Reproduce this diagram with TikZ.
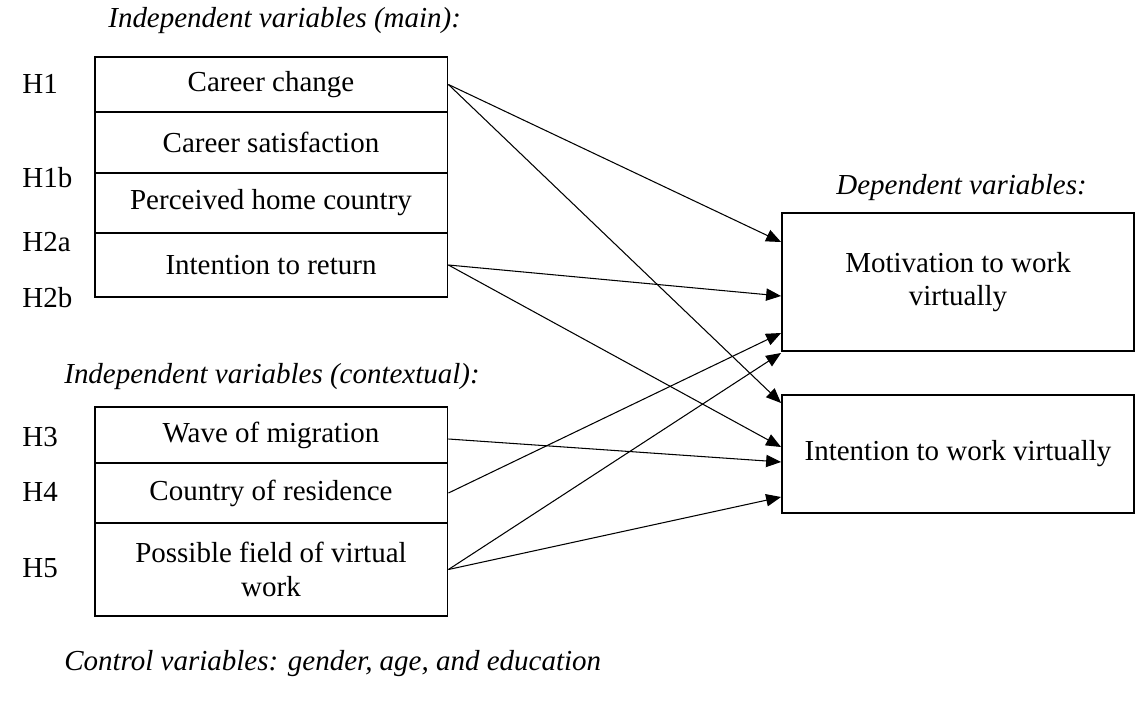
\documentclass[tikz,border=0pt]{standalone}
\usepackage{fontspec}
\setmainfont{Liberation Serif}
\usetikzlibrary{arrows.meta}

\tikzset{
  varbox/.style={draw, line width=1.1pt, minimum width=7.06cm, align=center, inner sep=0pt},
  depbox/.style={draw, line width=1.1pt, minimum width=7.04cm, align=center, inner sep=0pt},
  hyp/.style={anchor=west, inner sep=0pt},
  heading/.style={anchor=west, inner sep=0pt, font=\fontsize{16.5}{19}\selectfont\itshape},
  link/.style={-{Triangle[length=8.5pt,width=7pt]}, line width=0.6pt}
}

\begin{document}
\begin{tikzpicture}[x=0.02cm, y=-0.02cm, font=\fontsize{16.5}{19}\selectfont]
     \useasboundingbox (0,0) rectangle (1136,721);

     % headings
     \node[heading] (hmain) at (108,21) {Independent variables (main):};
     \node[heading] (hcont) at (64,377) {Independent variables (contextual):};
     \node[heading] (hdep) at (836,188) {Dependent variables:};
     \node[heading] (hctrl) at (64,664) {Control variables: gender, age, and education};

     % main variables
     \node[varbox, minimum height=1.1cm] (cc) at (271,84.5) {Career change};
     \node[varbox, minimum height=1.22cm] (cs) at (271,142.5) {Career satisfaction};
     \node[varbox, minimum height=1.2cm] (phc) at (271,203) {Perceived home country};
     \node[varbox, minimum height=1.28cm] (itr) at (271,265) {Intention to return};

     % contextual variables
     \node[varbox, minimum height=1.12cm] (wom) at (271,435) {Wave of migration};
     \node[varbox, minimum height=1.2cm] (cor) at (271,493) {Country of residence};
     \node[varbox, minimum height=1.86cm] (pfw) at (271,569.5) {Possible field of virtual\\work};

     % dependent variables
     \node[depbox, minimum height=2.76cm] (mot) at (958,282) {Motivation to work\\virtually};
     \node[depbox, minimum height=2.36cm] (int) at (958,454) {Intention to work virtually};

     % hypotheses
     \node[hyp] (h1) at (22,84) {H1};
     \node[hyp] (h1b) at (22,178) {H1b};
     \node[hyp] (h2a) at (22,242) {H2a};
     \node[hyp] (h2b) at (22,298) {H2b};
     \node[hyp] (h3) at (22,437) {H3};
     \node[hyp] (h4) at (22,492) {H4};
     \node[hyp] (h5) at (22,568) {H5};

     \draw[link] (cc.east) -- ([yshift=0.8cm]mot.west);
     \draw[link] (cc.east) -- ([yshift=1.02cm]int.west);
     \draw[link] (itr.east) -- ([yshift=-0.28cm]mot.west);
     \draw[link] (itr.east) -- ([yshift=0.14cm]int.west);
     \draw[link] ([yshift=-0.08cm]wom.east) -- ([yshift=-0.16cm]int.west);
     \draw[link] (cor.east) -- ([yshift=-1.02cm]mot.west);
     \draw[link] (pfw.east) -- ([yshift=-1.42cm]mot.west);
     \draw[link] (pfw.east) -- ([yshift=-0.86cm]int.west);
\end{tikzpicture}
\end{document}
